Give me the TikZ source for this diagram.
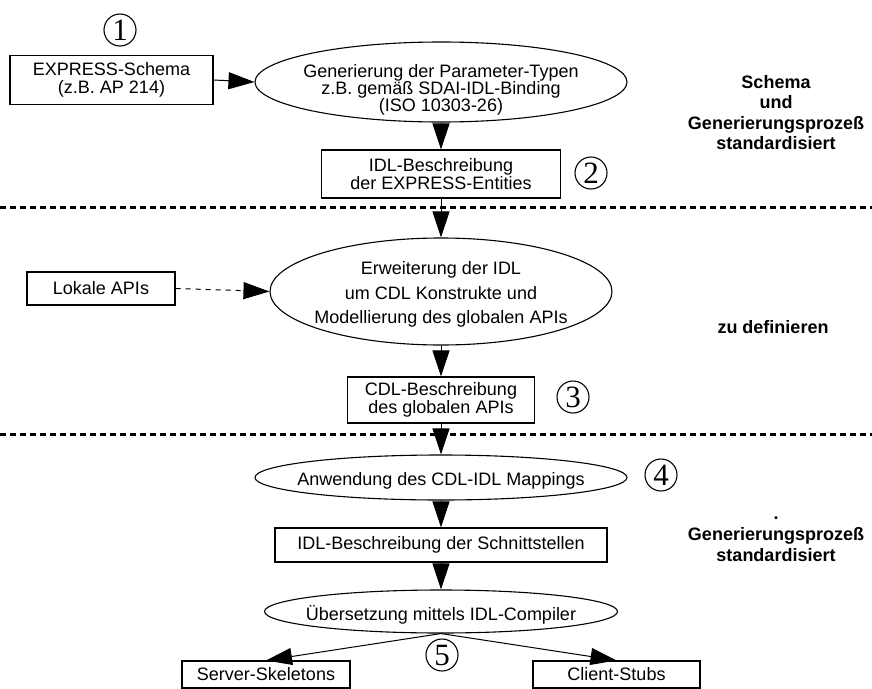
\documentclass[tikz,border=0pt]{standalone}
\usepackage{fontspec}
\setmainfont{Liberation Sans}
\newfontfamily\numfont{Liberation Serif}
\usetikzlibrary{arrows.meta,shapes.geometric}
\begin{document}
\begin{tikzpicture}[x=1pt,y=-1pt,
  txt/.style={font=\fontsize{18}{17}\selectfont, align=center, inner sep=0pt},
  boxnode/.style={draw, line width=1.1pt, inner sep=0pt, align=center, font=\fontsize{18}{18.5}\selectfont},
  ellnode/.style={draw, ellipse, line width=1.1pt, inner sep=0pt},
  numc/.style={draw, circle, line width=1.1pt, minimum size=32pt, inner sep=0pt, font=\numfont\fontsize{31}{31}\selectfont},
  flow/.style={line width=1pt, -{Triangle[length=26pt,width=17pt]}},
  sepline/.style={line width=3pt, dash pattern=on 6pt off 4pt},
  side/.style={font=\bfseries\fontsize{18}{20.5}\selectfont, align=center, inner sep=0pt}
]
\useasboundingbox (0,0) rectangle (872,688);

% separators
\draw[sepline] (0,207) -- (872,207);
\draw[sepline] (0,434) -- (872,434);

% nodes
\node[numc] (n1) at (120,30) {1};
\node[boxnode, minimum width=203pt, minimum height=49pt] (express) at (111.5,80) {EXPRESS-Schema\\(z.B. AP 214)};
\node[ellnode, minimum width=372pt, minimum height=80pt] (e1) at (441,82) {};
\node[txt] (e1t) at (441,89.5) {Generierung der Parameter-Typen\\z.B. gemäß SDAI-IDL-Binding\\(ISO 10303-26)};
\node[boxnode, minimum width=239pt, minimum height=48pt] (idl1) at (441,174) {IDL-Beschreibung\\der EXPRESS-Entities};
\node[numc] (n2) at (591,173) {2};

\node[boxnode, minimum width=148pt, minimum height=33pt] (lokal) at (101,288.5) {Lokale APIs};
\node[ellnode, minimum width=342pt, minimum height=107pt] (e2) at (441,291.5) {};
\node[txt, font=\fontsize{18}{24.5}\selectfont] (e2t) at (441,294.5) {Erweiterung der IDL\\um CDL Konstrukte und\\Modellierung des globalen APIs};
\node[boxnode, minimum width=187pt, minimum height=46pt] (cdl) at (441,400) {CDL-Beschreibung\\des globalen APIs};
\node[numc] (n3) at (573,397) {3};

\node[ellnode, minimum width=372pt, minimum height=45pt] (e3) at (441,477.5) {};
\node[txt] (e3t) at (441,480.5) {Anwendung des CDL-IDL Mappings};
\node[numc] (n4) at (661,475) {4};
\node[boxnode, minimum width=332pt, minimum height=34pt] (idl2) at (441,545) {IDL-Beschreibung der Schnittstellen};
\node[ellnode, minimum width=353pt, minimum height=43pt] (e4) at (441,611.5) {};
\node[txt] (e4t) at (441,614.5) {Übersetzung mittels IDL-Compiler};
\node[numc] (n5) at (442,655) {5};
\node[boxnode, minimum width=168pt, minimum height=27pt] (server) at (266,674.5) {Server-Skeletons};
\node[boxnode, minimum width=167pt, minimum height=27pt] (client) at (616.5,674.5) {Client-Stubs};

% side labels
\node[side] (s1) at (776,112.5) {Schema\\und\\Generierungsprozeß\\standardisiert};
\node[side] (s2) at (773,327) {zu definieren};
\node[side, font=\bfseries\fontsize{18}{21}\selectfont] (s3) at (776,539) {.\\Generierungsprozeß\\standardisiert};

% connectors
\draw[flow] (express.east) -- (e1.west);
\draw[flow] (e1.south) -- (idl1.north);
\draw[flow] (idl1.south) -- (e2.north);
\draw[line width=1pt, dash pattern=on 5pt off 5pt, -{Triangle[length=26pt,width=17pt]}] (lokal.east) -- (e2.west);
\draw[flow] (e2.south) -- (cdl.north);
\draw[flow] (cdl.south) -- (e3.north);
\draw[flow] (e3.south) -- (idl2.north);
\draw[flow] (idl2.south) -- (e4.north);
\draw[flow] (e4.south) -- (server.north);
\draw[flow] (e4.south) -- (client.north);
\end{tikzpicture}
\end{document}
